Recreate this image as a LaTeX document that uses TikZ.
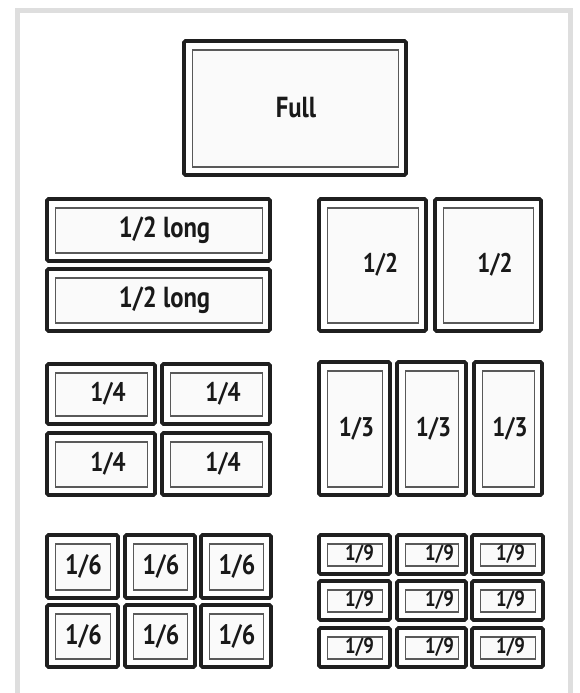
\documentclass[tikz,border=0pt]{standalone}
\usepackage{fontspec}
\setmainfont[FakeStretch=0.85]{PT Sans}
\tikzset{
  frameline/.style={draw=black!13, line width=5pt},
  outerline/.style={draw=black!88, line width=3.6pt, rounded corners=1.5pt},
  innerline/.style={draw=black!65, line width=1.2pt, fill=black!2},
  lbl/.style={text=black!90, font=\bfseries\fontsize{27}{27}\selectfont, inner sep=0pt},
  lblbig/.style={lbl, font=\bfseries\fontsize{29}{29}\selectfont},
  lblsix/.style={lbl, font=\bfseries\fontsize{28}{28}\selectfont},
  lblsmall/.style={lbl, font=\bfseries\fontsize{22}{22}\selectfont},
}
% #1 name, #2 x1, #3 y1, #4 x2, #5 y2, #6 label, #7 label style, #8 x shift
\newcommand\pan[8]{%
  \draw[outerline] (#2+2,#3+2) rectangle (#4-2,#5-2);
  \draw[innerline] (#2+10.5,#3+11) rectangle (#4-9.5,#5-10);
  \node[#7] (#1) at ({(#2+#4)/2+#8},{(#3+#5)/2}) {#6};
}
\begin{document}
\begin{tikzpicture}[x=1pt,y=-1pt]
\useasboundingbox (0,0) rectangle (579,693);
\fill[white] (0,0) rectangle (579,693);
\draw[frameline] (17.5,693) -- (17.5,10.5) -- (570.5,10.5) -- (570.5,693);
% Full
\pan{full}{182}{39}{408}{177}{Full}{lblbig}{1}
% 1/2 long
\pan{hl1}{45}{197}{272}{263}{1/2 long}{lblbig}{6}
\pan{hl2}{45}{267}{272}{333}{1/2 long}{lblbig}{6}
% 1/2
\pan{h1}{317}{197}{428}{333}{1/2}{lbl}{8}
\pan{h2}{433}{197}{543}{333}{1/2}{lbl}{7}
% 1/4
\pan{q1}{45}{362}{157}{426}{1/4}{lbl}{7}
\pan{q2}{160}{362}{272}{426}{1/4}{lbl}{7}
\pan{q3}{45}{431}{157}{497}{1/4}{lbl}{7}
\pan{q4}{160}{431}{272}{497}{1/4}{lbl}{7}
% 1/3
\pan{t1}{317}{360}{392}{497}{1/3}{lbl}{2}
\pan{t2}{395}{360}{468}{497}{1/3}{lbl}{2}
\pan{t3}{472}{360}{544}{497}{1/3}{lbl}{2}
% 1/6
\pan{s1}{45}{533}{120}{600}{1/6}{lblsix}{1}
\pan{s2}{123}{533}{197}{600}{1/6}{lblsix}{1}
\pan{s3}{199}{533}{273}{600}{1/6}{lblsix}{1}
\pan{s4}{45}{603}{120}{669}{1/6}{lblsix}{1}
\pan{s5}{123}{603}{197}{669}{1/6}{lblsix}{1}
\pan{s6}{199}{603}{273}{669}{1/6}{lblsix}{1}
% 1/9
\pan{n1}{317}{533}{392}{576}{1/9}{lblsmall}{5}
\pan{n2}{395}{533}{468}{576}{1/9}{lblsmall}{8}
\pan{n3}{470}{533}{545}{576}{1/9}{lblsmall}{3}
\pan{n4}{317}{579}{392}{622}{1/9}{lblsmall}{5}
\pan{n5}{395}{579}{468}{622}{1/9}{lblsmall}{8}
\pan{n6}{470}{579}{545}{622}{1/9}{lblsmall}{3}
\pan{n7}{317}{626}{392}{669}{1/9}{lblsmall}{5}
\pan{n8}{395}{626}{468}{669}{1/9}{lblsmall}{8}
\pan{n9}{470}{626}{545}{669}{1/9}{lblsmall}{3}
\end{tikzpicture}
\end{document}
